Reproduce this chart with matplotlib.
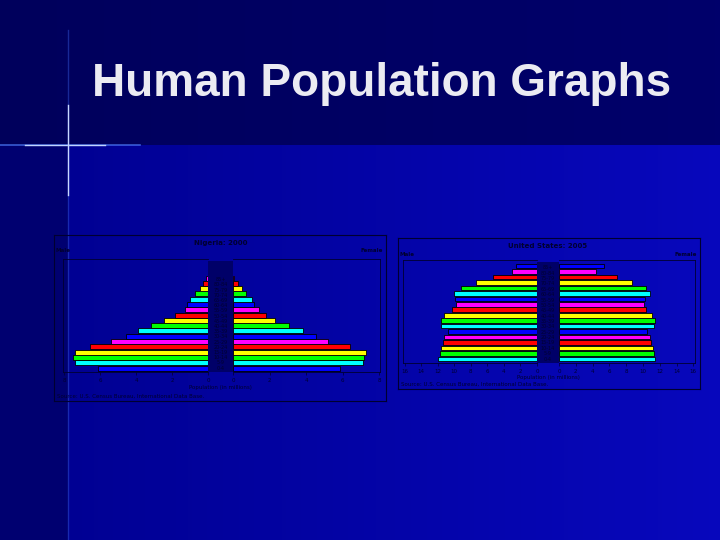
import numpy as np
import matplotlib.pyplot as plt

W, H = 720, 540

ages = ['0-4', '5-9', '10-14', '15-19', '20-24', '25-29', '30-34', '35-39', '40-44',
        '45-49', '50-54', '55-59', '60-64', '65-69', '70-74', '75-79', '80-84', '85+']

# population in millions, youngest group first
nigeria_male = [6.09, 7.39, 7.47, 7.39, 6.57, 5.41, 4.57, 3.87, 3.16,
                2.44, 1.83, 1.30, 1.14, 1.01, 0.70, 0.42, 0.28, 0.09]
nigeria_female = [5.87, 7.12, 7.19, 7.28, 6.40, 5.19, 4.53, 3.82, 3.05,
                  2.28, 1.78, 1.41, 1.17, 1.06, 0.73, 0.48, 0.26, 0.07]
us_male = [12.0, 11.76, 11.64, 11.4, 11.28, 10.8, 11.64, 11.64, 11.2,
           10.28, 9.84, 9.96, 10.04, 9.2, 7.32, 5.28, 3.08, 2.56]
us_female = [11.4, 11.32, 11.2, 10.96, 10.84, 10.52, 11.28, 11.4, 11.08,
             10.36, 10.12, 10.2, 10.8, 10.32, 8.68, 6.88, 4.44, 5.32]

nigeria_ticks = [0, 2, 4, 6, 8]
us_ticks = [0, 2, 4, 6, 8, 10, 12, 14, 16]

cycle = ['#0000ff', '#00ffff', '#00ff00', '#ffff00', '#ff0000', '#ff00ff']


def box(x0, y0, x1, y1):
    # pixel box (top-left origin) -> figure fraction rect
    return [x0 / W, 1 - y1 / H, (x1 - x0) / W, (y1 - y0) / H]


fig = plt.figure(figsize=(7.2, 5.4), dpi=100)

# slide background
bg = fig.add_axes([0, 0, 1, 1])
img = np.zeros((H, W, 3))
xs = np.linspace(0, 1, W)
top = np.stack([np.zeros(W), np.zeros(W), 0.36 + 0.06 * xs], axis=1)
low = np.stack([0.03 * xs, 0.03 * xs, 0.56 + 0.18 * xs], axis=1)
img[:145] = top
img[145:] = low
img[145:, :68] = [0, 0, 0.44]
bg.imshow(img, extent=[0, W, H, 0], aspect='auto')
bg.plot([0, 140], [145, 145], color='#5080ff', lw=1.2, alpha=0.7)
bg.plot([25, 105], [145, 145], color='#c0d4ff', lw=1.0)
bg.plot([68, 68], [30, 540], color='#3050d0', lw=1.0, alpha=0.5)
bg.plot([68, 68], [105, 195], color='#c8d8ff', lw=1.0)
bg.set_xlim(0, W)
bg.set_ylim(H, 0)
bg.axis('off')
fig.text(92 / W, 1 - 84 / H, 'Human Population Graphs', color='#ebebf2',
         fontsize=33, fontweight='bold', family='Liberation Sans', va='center')

ink = '#000030'


def pyramid(outer, plot, col_x, title, male, female, ticks, xmax, ylim, colors, height):
    ox0, oy0, ox1, oy1 = outer
    px0, py0, px1, py1 = plot
    cx0, cx1 = col_x
    frame = fig.add_axes(box(ox0, oy0, ox1, oy1))
    frame.set_xticks([])
    frame.set_yticks([])
    frame.patch.set_alpha(0)
    for s in frame.spines.values():
        s.set_color(ink)
        s.set_linewidth(0.8)
    fig.text(((cx0 + cx1) / 2) / W, 1 - (oy0 + 8) / H, title, color=ink,
             fontsize=5, fontweight='bold', ha='center', va='center')
    fig.text((ox0 + 2) / W, 1 - (oy0 + 16) / H, 'Male', color=ink, fontsize=4,
             fontweight='bold', va='center')
    fig.text((ox1 - 3) / W, 1 - (oy0 + 16) / H, 'Female', color=ink, fontsize=4,
             fontweight='bold', va='center', ha='right')
    fig.text(((cx0 + cx1) / 2) / W, 1 - (py1 + 15) / H, 'Population (in millions)',
             color=ink, fontsize=4, ha='center', va='center')
    fig.text((ox0 + 3) / W, 1 - (oy1 - 5) / H,
             'Source: U.S. Census Bureau, International Data Base.',
             color=ink, fontsize=4, va='center')

    y = np.arange(len(ages))
    bar_colors = [colors[i % len(colors)] for i in y]
    axm = fig.add_axes(box(px0, py0, cx0, py1))
    axf = fig.add_axes(box(cx1, py0, px1, py1))
    axc = fig.add_axes(box(cx0, py0 + 2, cx1, py1))
    axm.barh(y, male, height=height, color=bar_colors, edgecolor='black', linewidth=0.6)
    axf.barh(y, female, height=height, color=bar_colors, edgecolor='black', linewidth=0.6)
    axm.set_xlim(xmax, 0)
    axf.set_xlim(0, xmax)
    for ax in (axm, axf, axc):
        ax.set_ylim(*ylim)
        ax.set_yticks([])
        ax.patch.set_alpha(0)
    axm.spines['right'].set_visible(False)
    axf.spines['left'].set_visible(False)
    for ax in (axm, axf):
        ax.set_xticks(ticks)
        ax.set_xticklabels([str(t) for t in ticks], fontsize=4, color=ink)
        ax.tick_params(length=2, width=0.5, color=ink, pad=2)
        for s in ax.spines.values():
            s.set_color(ink)
            s.set_linewidth(0.6)
    axc.set_facecolor('#000068')
    axc.patch.set_alpha(1)
    axc.set_xticks([])
    axc.set_xlim(0, 1)
    for s in axc.spines.values():
        s.set_visible(False)
    for i, a in enumerate(ages):
        axc.text(0.5, i, a, color='#000030', fontsize=3.5, ha='center', va='center')


pyramid((54, 235, 386, 401), (63, 259, 380, 372), (208, 233), 'Nigeria: 2000',
        nigeria_male, nigeria_female, nigeria_ticks, 8.05, (-0.75, 20.6), cycle, 0.95)
pyramid((398, 238, 700, 389), (403, 260, 695, 363), (537, 559), 'United States: 2005',
        us_male, us_female, us_ticks, 16.2, (-0.73, 18.1), cycle[1:] + cycle[:1], 0.84)

fig.savefig('out.png', dpi=100)
